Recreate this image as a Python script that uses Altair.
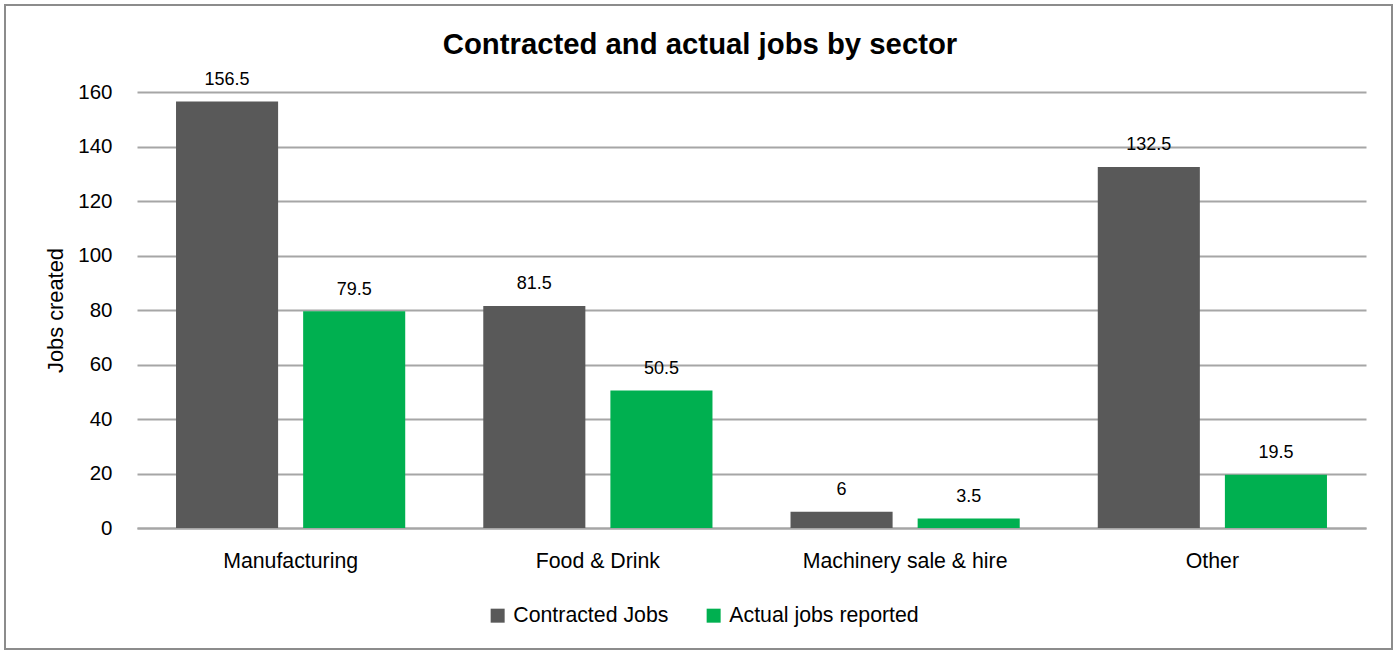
import altair as alt
import pandas as pd

categories = ["Manufacturing", "Food & Drink", "Machinery sale & hire", "Other"]
series_names = ["Contracted Jobs", "Actual jobs reported"]
contracted = [156.5, 81.5, 6, 132.5]
actual = [79.5, 50.5, 3.5, 19.5]
colors = ["#595959", "#00B050"]
y_ticks = [0, 20, 40, 60, 80, 100, 120, 140, 160]

rows = []
for c, a, b in zip(categories, contracted, actual):
    rows.append({"sector": c, "series": series_names[0], "jobs": a})
    rows.append({"sector": c, "series": series_names[1], "jobs": b})
df = pd.DataFrame(rows)

FONT = "Liberation Sans, Arial, sans-serif"

x_enc = alt.X("sector:N", sort=categories,
              scale=alt.Scale(paddingInner=0, paddingOuter=0),
              axis=alt.Axis(title=None, labelAngle=0, ticks=False, domain=True,
                            domainColor="#a6a6a6", domainWidth=2,
                            labelFontSize=21.3, labelPadding=22, labelColor="#000000",
                            labelFont=FONT, labelLimit=0, grid=False))
xoff_enc = alt.XOffset("series:N", sort=series_names,
                       scale=alt.Scale(paddingInner=0.197, paddingOuter=0.307))
y_enc = alt.Y("jobs:Q",
              scale=alt.Scale(domain=[0, 160], nice=False),
              axis=alt.Axis(values=y_ticks, title="Jobs created", ticks=False, domain=False,
                            grid=True, gridColor="#a6a6a6", gridWidth=2,
                            labelFontSize=20.5, labelPadding=25, labelColor="#000000",
                            labelFont=FONT,
                            titleFont=FONT, titleFontSize=21.8, titleFontWeight="normal",
                            titleColor="#000000", titleX=-82, titleY=218,
                            titleAngle=-90, titleAlign="center", titleBaseline="middle"))
color_enc = alt.Color("series:N", sort=series_names,
                      scale=alt.Scale(domain=series_names, range=colors),
                      legend=alt.Legend(title=None, orient="none", legendX=350, legendY=513,
                                        direction="horizontal", symbolType="square",
                                        symbolSize=196, symbolStrokeWidth=0,
                                        labelFontSize=21.3, labelFont=FONT, labelColor="#000000",
                                        labelLimit=0, labelOffset=5, columnPadding=34, padding=0))

bars = alt.Chart(df).mark_bar().encode(x=x_enc, xOffset=xoff_enc, y=y_enc, color=color_enc)

labels = alt.Chart(df).mark_text(baseline="alphabetic", dy=-16.5, fontSize=18,
                                  font=FONT, color="#000000").encode(
    x=alt.X("sector:N", sort=categories),
    xOffset=alt.XOffset("series:N", sort=series_names),
    y="jobs:Q",
    text="jobs:Q",
)

frame_df = pd.DataFrame({"k": [0]})
border = alt.Chart(frame_df).mark_rect(fill=None, stroke="#8c8c8c", strokeWidth=2).encode(
    x=alt.value(-132), x2=alt.value(1255), y=alt.value(-87), y2=alt.value(557)
)
title_df = pd.DataFrame({"t": ["Contracted and actual jobs by sector"]})
title = alt.Chart(title_df).mark_text(fontSize=29.3, fontWeight="bold",
                                      font=FONT,
                                      align="center", baseline="alphabetic",
                                      color="#000000").encode(
    x=alt.value(563), y=alt.value(-38), text="t:N"
)

chart = alt.layer(border, bars, labels, title).properties(
    width=1229, height=436,
    autosize=alt.AutoSizeParams(type="none"),
    padding={"left": 137, "top": 92, "right": 34, "bottom": 122},
    background="#ffffff",
).configure_view(stroke=None)

chart.save("out.html", embed_options={"renderer": "svg", "actions": False})
